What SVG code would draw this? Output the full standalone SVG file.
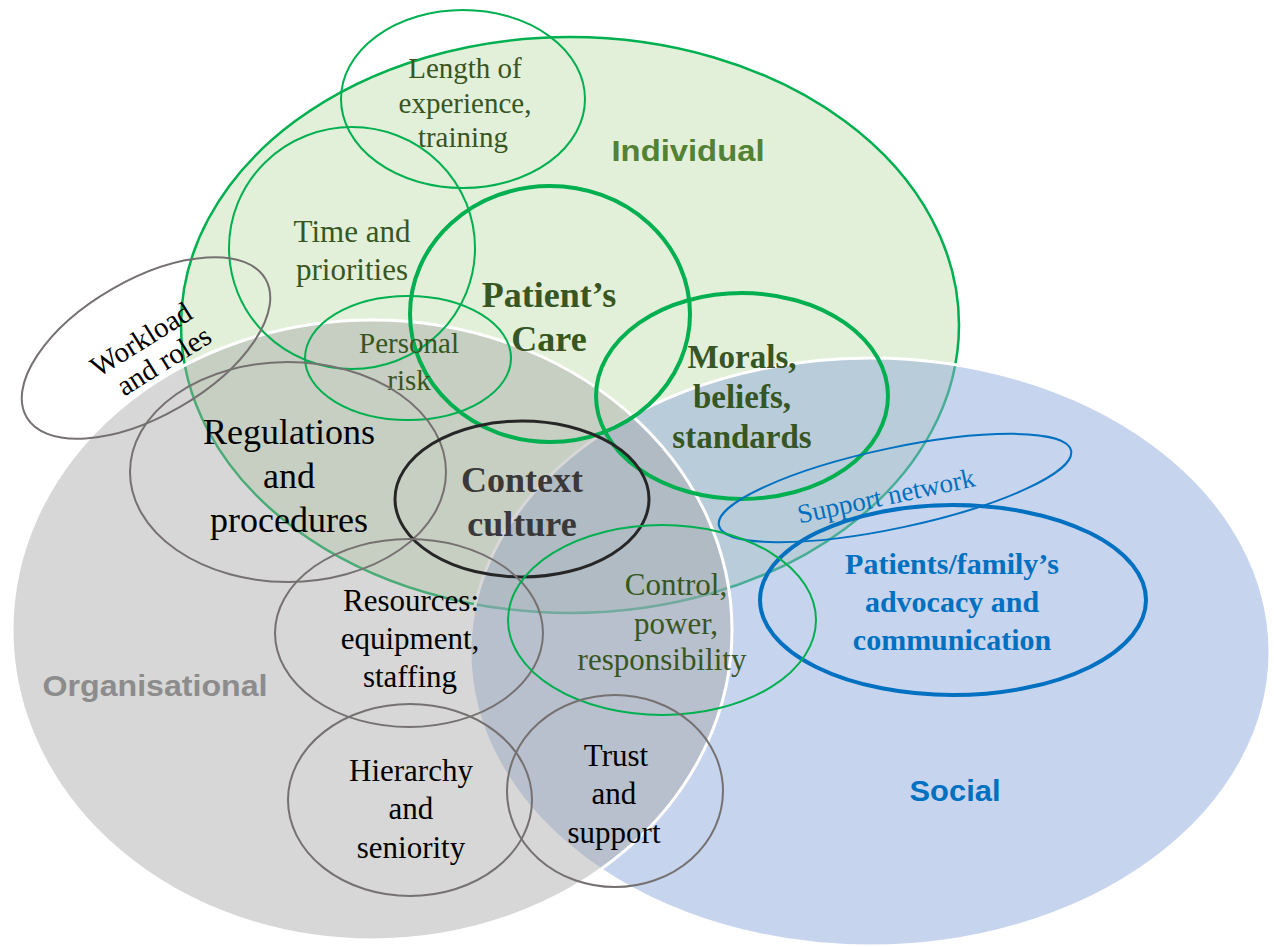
<svg xmlns="http://www.w3.org/2000/svg" width="1274" height="947" viewBox="0 0 1274 947">
  <style>
    .serif { font-family: "Liberation Serif", "Times New Roman", serif; text-anchor: middle; }
    .sans { font-family: "Liberation Sans", Arial, sans-serif; font-weight: bold; text-anchor: middle; }
    .g-thin { fill: none; stroke: #00b050; stroke-width: 2; }
    .g-thick { fill: none; stroke: #00b050; stroke-width: 4; }
    .grey { fill: none; stroke: #767171; stroke-width: 2; }
    .dkgreen { fill: #375623; }
    .black { fill: #000000; }
    .blue { fill: #0070c0; }
  </style>
  <rect width="1274" height="947" fill="#ffffff"/>

  <!-- Domain areas -->
  <g id="domains">
    <ellipse id="individual-area" cx="570" cy="325" rx="389" ry="288" fill="#e2efd9" stroke="#00b050" stroke-width="2.5"/>
    <ellipse id="social-area" cx="870" cy="652" rx="400" ry="294" fill="#8faadc" fill-opacity="0.5" stroke="#ffffff" stroke-width="3"/>
    <ellipse id="organisational-area" cx="372" cy="630" rx="360" ry="310" fill="#a6a6a6" fill-opacity="0.45" stroke="#ffffff" stroke-width="3"/>
  </g>

  <g id="connectors"/>

  <g id="length-experience">
    <ellipse class="g-thin" cx="463" cy="99" rx="122" ry="89"/>
    <text class="serif dkgreen" font-size="29"><tspan x="465" y="78">Length of</tspan><tspan x="465" y="113">experience,</tspan><tspan x="463" y="147">training</tspan></text>
  </g>

  <g id="time-priorities">
    <ellipse class="g-thin" cx="352" cy="248" rx="123" ry="121"/>
    <text class="serif dkgreen" font-size="31"><tspan x="352" y="242">Time and</tspan><tspan x="352" y="280">priorities</tspan></text>
  </g>

  <g id="patients-care">
    <ellipse class="g-thick" cx="550" cy="314" rx="140" ry="128"/>
    <text class="serif dkgreen" font-size="36" font-weight="bold"><tspan x="549" y="307">Patient’s</tspan><tspan x="549" y="351">Care</tspan></text>
  </g>

  <g id="personal-risk">
    <ellipse class="g-thin" cx="408" cy="358" rx="103" ry="62"/>
    <text class="serif dkgreen" font-size="29"><tspan x="409" y="353">Personal</tspan><tspan x="409" y="390">risk</tspan></text>
  </g>

  <g id="morals">
    <ellipse class="g-thick" cx="742" cy="396" rx="146" ry="103"/>
    <text class="serif dkgreen" font-size="33" font-weight="bold"><tspan x="742" y="368">Morals,</tspan><tspan x="742" y="408">beliefs,</tspan><tspan x="742" y="448">standards</tspan></text>
  </g>

  <g id="workload">
    <ellipse class="grey" cx="146" cy="348" rx="138" ry="68" transform="rotate(-30 146 348)"/>
    <text class="serif black" font-size="29" transform="rotate(-32 150 350)"><tspan x="148" y="346">Workload</tspan><tspan x="156" y="376">and roles</tspan></text>
  </g>

  <g id="regulations">
    <ellipse class="grey" cx="288" cy="472" rx="158" ry="110"/>
    <text class="serif black" font-size="36"><tspan x="289" y="444">Regulations</tspan><tspan x="289" y="488">and</tspan><tspan x="289" y="532">procedures</tspan></text>
  </g>

  <g id="context-culture">
    <ellipse cx="522" cy="499" rx="127" ry="78" fill="none" stroke="#262626" stroke-width="3"/>
    <text class="serif" font-size="36" font-weight="bold" fill="#3a3838"><tspan x="522" y="492">Context</tspan><tspan x="522" y="536">culture</tspan></text>
  </g>

  <g id="support-network">
    <ellipse cx="895" cy="488" rx="180" ry="40" fill="none" stroke="#0070c0" stroke-width="2" transform="rotate(-12 895 488)"/>
    <text class="serif blue" font-size="27" transform="rotate(-12 886 496)" x="886" y="505">Support network</text>
  </g>

  <g id="patients-family">
    <ellipse cx="953" cy="600" rx="193" ry="95" fill="none" stroke="#0070c0" stroke-width="4"/>
    <text class="serif blue" font-size="30" font-weight="bold"><tspan x="952" y="574">Patients/family’s</tspan><tspan x="952" y="612">advocacy and</tspan><tspan x="952" y="650">communication</tspan></text>
  </g>

  <g id="resources">
    <ellipse class="grey" cx="409" cy="633" rx="134" ry="94"/>
    <text class="serif black" font-size="31"><tspan x="411" y="611">Resources:</tspan><tspan x="410" y="649">equipment,</tspan><tspan x="410" y="687">staffing</tspan></text>
  </g>

  <g id="control-power">
    <ellipse class="g-thin" cx="662" cy="620" rx="154" ry="95"/>
    <text class="serif dkgreen" font-size="31"><tspan x="676" y="595">Control,</tspan><tspan x="676" y="634">power,</tspan><tspan x="662" y="670">responsibility</tspan></text>
  </g>

  <g id="hierarchy">
    <ellipse class="grey" cx="410" cy="800" rx="122" ry="96"/>
    <text class="serif black" font-size="31"><tspan x="411" y="781">Hierarchy</tspan><tspan x="411" y="819">and</tspan><tspan x="411" y="858">seniority</tspan></text>
  </g>

  <g id="trust-support">
    <ellipse class="grey" cx="615" cy="791" rx="108" ry="96"/>
    <text class="serif black" font-size="31"><tspan x="616" y="766">Trust</tspan><tspan x="614" y="804">and</tspan><tspan x="614" y="843">support</tspan></text>
  </g>

  <!-- Domain titles -->
  <g id="domain-labels">
    <text class="sans" font-size="30" fill="#548235" x="688" y="161" textLength="153" lengthAdjust="spacingAndGlyphs">Individual</text>
    <text class="sans" font-size="30" fill="#8c8c8c" x="155" y="696" textLength="225" lengthAdjust="spacingAndGlyphs">Organisational</text>
    <text class="sans" font-size="30" fill="#0070c0" x="955" y="801" textLength="91" lengthAdjust="spacingAndGlyphs">Social</text>
  </g>
</svg>
